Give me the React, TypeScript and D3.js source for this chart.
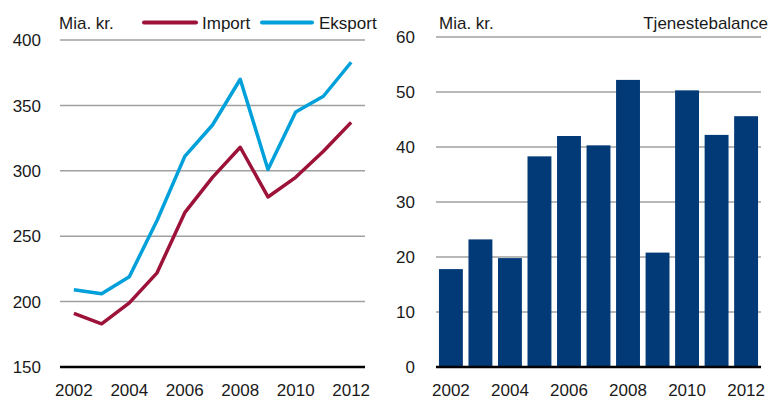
import * as d3 from "d3";

const WIDTH = 779;
const HEIGHT = 401;
const FONT = "Liberation Sans, Arial, sans-serif";

// data
const years = [2002, 2003, 2004, 2005, 2006, 2007, 2008, 2009, 2010, 2011, 2012];
const importValues = [191, 183, 199, 222, 268, 295, 318, 280, 295, 315, 337];
const eksportValues = [209, 206, 219, 262, 311, 335, 370, 301, 345, 357, 383];
const tjenesteValues = [17.8, 23.2, 19.8, 38.3, 42, 40.3, 52.2, 20.8, 50.3, 42.2, 45.6];
const leftTicks = [150, 200, 250, 300, 350, 400];
const rightTicks = [0, 10, 20, 30, 40, 50, 60];
const xTickYears = [2002, 2004, 2006, 2008, 2010, 2012];

const IMPORT_COLOR = "#9C1239";
const EKSPORT_COLOR = "#00A0DA";
const BAR_COLOR = "#023A78";
const GRID_COLOR = "#a0a0a0";

const LineChart = () => {
  const x = d3.scalePoint<number>().domain(years).range([60, 365]).padding(0.5);
  const y = d3.scaleLinear().domain([150, 400]).range([367, 40]);

  const line = d3
    .line<number>()
    .x((_, i) => x(years[i]) ?? 0)
    .y((d) => y(d));

  return (
    <g>
      {leftTicks.map((t) => (
        <g key={t}>
          {t !== 150 && (
            <line x1={60} x2={365} y1={y(t)} y2={y(t)} stroke={GRID_COLOR} strokeWidth={1.5} />
          )}
          <text x={41} y={y(t)} dy="0.36em" textAnchor="end" fontSize={17}>
            {t}
          </text>
        </g>
      ))}
      <path d={line(importValues) ?? ""} fill="none" stroke={IMPORT_COLOR} strokeWidth={3.5} strokeLinejoin="round" />
      <path d={line(eksportValues) ?? ""} fill="none" stroke={EKSPORT_COLOR} strokeWidth={3.5} strokeLinejoin="round" />
      <line x1={60} x2={365} y1={y(150)} y2={y(150)} stroke="#000" strokeWidth={2.5} />
      {xTickYears.map((yr) => (
        <text key={yr} x={x(yr)} y={396} textAnchor="middle" fontSize={17}>
          {yr}
        </text>
      ))}
      <text x={59} y={29} fontSize={17}>Mia. kr.</text>
      <line x1={144} x2={196} y1={22.5} y2={22.5} stroke={IMPORT_COLOR} strokeWidth={4} strokeLinecap="round" />
      <text x={202} y={29} fontSize={17}>Import</text>
      <line x1={262} x2={312} y1={22.5} y2={22.5} stroke={EKSPORT_COLOR} strokeWidth={4} strokeLinecap="round" />
      <text x={319} y={29} fontSize={17}>Eksport</text>
    </g>
  );
};

const BarChart = () => {
  const x = d3.scaleBand<number>().domain(years).range([436, 761]).paddingInner(0.19).paddingOuter(0.1);
  const y = d3.scaleLinear().domain([0, 60]).range([367, 37]);

  return (
    <g>
      {rightTicks.map((t) => (
        <g key={t}>
          {t !== 0 && (
            <line x1={436} x2={761} y1={y(t)} y2={y(t)} stroke={GRID_COLOR} strokeWidth={1.5} />
          )}
          <text x={415} y={y(t)} dy="0.36em" textAnchor="end" fontSize={17}>
            {t}
          </text>
        </g>
      ))}
      {tjenesteValues.map((v, i) => (
        <rect
          key={years[i]}
          x={x(years[i])}
          y={y(v)}
          width={x.bandwidth()}
          height={y(0) - y(v)}
          fill={BAR_COLOR}
        />
      ))}
      <line x1={436} x2={761} y1={y(0)} y2={y(0)} stroke="#000" strokeWidth={2.5} />
      {xTickYears.map((yr) => (
        <text key={yr} x={(x(yr) ?? 0) + x.bandwidth() / 2} y={396} textAnchor="middle" fontSize={17}>
          {yr}
        </text>
      ))}
      <text x={439} y={29} fontSize={17}>Mia. kr.</text>
      <text x={768} y={29} textAnchor="end" fontSize={17}>Tjenestebalance</text>
    </g>
  );
};

export default function App() {
  return (
    <svg
      width={WIDTH}
      height={HEIGHT}
      style={{ position: "absolute", left: 0, top: 0, background: "#fff" }}
      fontFamily={FONT}
      fill="#1a1a1a"
    >
      <LineChart />
      <BarChart />
    </svg>
  );
}
